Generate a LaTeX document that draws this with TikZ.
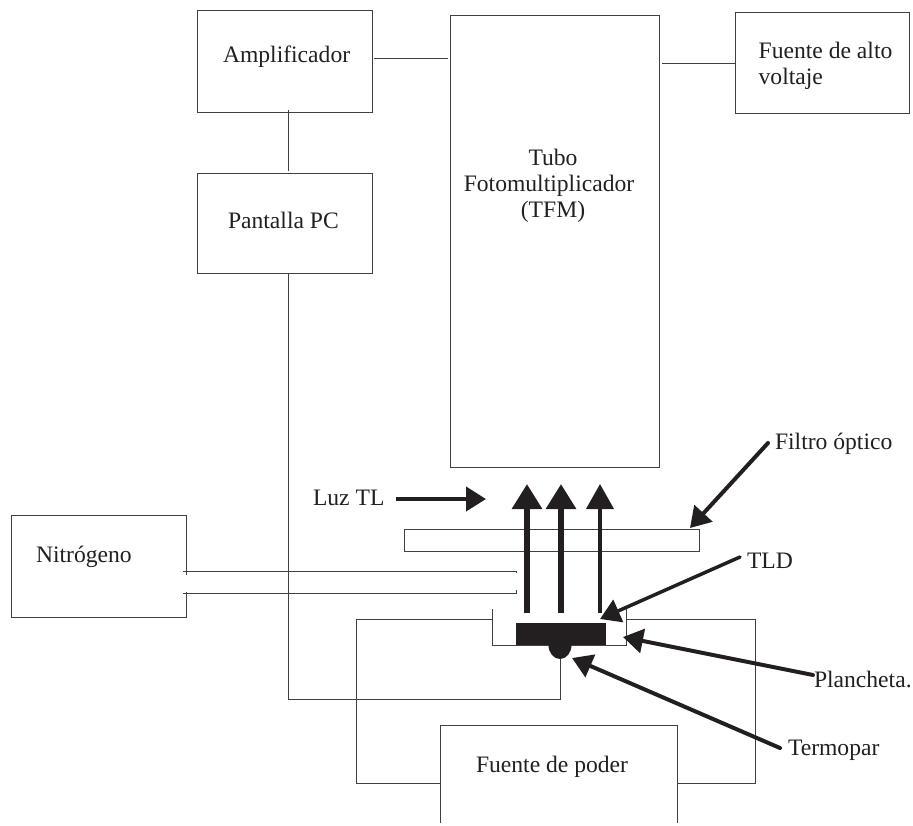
\documentclass[tikz,border=0pt]{standalone}
\usepackage{fontspec}
\setmainfont{Liberation Serif}
\usetikzlibrary{arrows.meta,calc}
\definecolor{ink}{HTML}{231F20}
\definecolor{wire}{HTML}{404040}
\tikzset{
  x=1pt,y=-1pt,
  wireline/.style={draw=wire,line width=0.9pt},
  boxnode/.style={wireline,inner sep=0pt,outer sep=0pt,fill=none,anchor=north west},
  lab/.style={text=ink,font=\fontsize{23.6}{26}\selectfont,inner sep=0pt,outer sep=0pt},
  labl/.style={lab,anchor=base west},
  labm/.style={lab,anchor=center,align=left},
  labc/.style={lab,anchor=center,align=center},
  pointer/.style={draw=ink,line width=4pt,line cap=round,-{Triangle[length=20pt,width=24pt,fill=ink]}},
  beam/.style={draw=ink,line width=6pt,-{Triangle[length=25pt,width=29pt,fill=ink]}},
  beamthin/.style={draw=ink,line width=4pt,-{Triangle[length=25pt,width=27pt,fill=ink]}},
}
\begin{document}
\begin{tikzpicture}
\useasboundingbox (0,0) rectangle (913,825);
% boxes
\node[boxnode,minimum width=175pt,minimum height=102pt] (amp) at (197,10) {};
\node[boxnode,minimum width=175pt,minimum height=100pt] (pc) at (197,173) {};
\node[boxnode,minimum width=209pt,minimum height=451.5pt] (tfm) at (450,15.5) {};
\node[boxnode,minimum width=174pt,minimum height=101pt] (hv) at (735,12) {};
\node[boxnode,minimum width=175pt,minimum height=102pt] (n2) at (11,515) {};
\node[boxnode,minimum width=295pt,minimum height=22pt] (filtro) at (404,529) {};
% opening in the nitrogen box wall, between the two tubes
\fill[white] (184,574.5) rectangle (188,591.5);
% labels
\node[labl] (tamp) at (223,62) {Amplificador};
\node[labl] (tpc) at (228,228) {Pantalla PC};
\node[labc] (ttfm) at (549,186) {\hspace*{8pt}Tubo\\Fotomultiplicador\\\hspace*{8pt}(TFM)};
\node[labm] (thv) at (825.5,66) {Fuente de alto\\voltaje};
\node[labl] (tn2) at (36,562) {Nitrógeno};
\node[labl] (tluz) at (313,505) {Luz TL};
\node[labl] (tfil) at (775,449) {Filtro óptico};
\node[labl] (ttld) at (747,568) {TLD};
\node[labl] (tpla) at (814,687) {Plancheta.};
\node[labl] (tter) at (788,755) {Termopar};
\node[labl] (tpod) at (476,772) {Fuente de poder};
% signal connectors
\coordinate (ampout) at (374,58);
\coordinate (tfmin) at (448,58);
\coordinate (tfmout) at (662,63);
\coordinate (hvin) at (735,63);
\coordinate (amplow) at (288,110);
\coordinate (pctop) at (288,171);
\draw[wireline] (ampout) -- (tfmin);
\draw[wireline] (tfmout) -- (hvin);
\draw[wireline] (amplow) -- (pctop);
\coordinate (pcout) at (288,273);
\coordinate (tcbend) at (288,699);
\coordinate (tcend) at (560,699);
\coordinate (tcbead) at (560,659);
\draw[wireline] (pcout) -- (tcbend) -- (tcend) -- (tcbead);
% nitrogen tubes
\coordinate (tubeAs) at (183,571); \coordinate (tubeAe) at (516,571);
\coordinate (tubeBs) at (183,593); \coordinate (tubeBe) at (516,593);
\draw[wireline] (tubeAs) -- (tubeAe) -- ++(0,2);
\draw[wireline] (tubeBs) -- (tubeBe) -- ++(0,-3);
% power supply, open at the bottom
\coordinate (podA) at (440,823); \coordinate (podB) at (440,725);
\coordinate (podC) at (677,725); \coordinate (podD) at (677,823);
\draw[wireline] (podA) -- (podB) -- (podC) -- (podD);
% heater wires
\draw[wireline] (492,619) -- (356,619) -- (356,783) -- (440,783);
\draw[wireline] (626,619) -- (755,619) -- (755,783) -- (677,783);
% plancheta
\draw[wireline] (492,609) -- (492,645) -- (626,645) -- (626,609);
% sample and thermocouple bead
\fill[ink] (516,623) rectangle (606,645);
\fill[ink] (571.5,645) arc[start angle=0,end angle=180,x radius=11.5,y radius=14] -- cycle;
% light beams
\coordinate (b1s) at (527,613); \coordinate (b1e) at (527,484);
\coordinate (b2s) at (561,613); \coordinate (b2e) at (561,484);
\coordinate (b3s) at (600,613); \coordinate (b3e) at (600,484);
\draw[beam] (b1s) -- (b1e);
\draw[beam] (b2s) -- (b2e);
\draw[beamthin] (b3s) -- (b3e);
% pointers
\coordinate (luzs) at (396,499); \coordinate (luze) at (486,499);
\draw[pointer,line cap=butt] (luzs) -- (luze);
\coordinate (pfil) at (768,443); \coordinate (qfil) at (690,528);
\draw[pointer] (pfil) -- (qfil);
\coordinate (ptld) at (740,557); \coordinate (qtld) at (600,619);
\draw[pointer,line width=3.5pt] (ptld) -- (qtld);
\coordinate (ppla) at (813,675); \coordinate (qpla) at (623,637);
\draw[pointer] (ppla) -- (qpla);
\coordinate (pter) at (780,748); \coordinate (qter) at (572,658);
\draw[pointer] (pter) -- (qter);
\end{tikzpicture}
\end{document}
